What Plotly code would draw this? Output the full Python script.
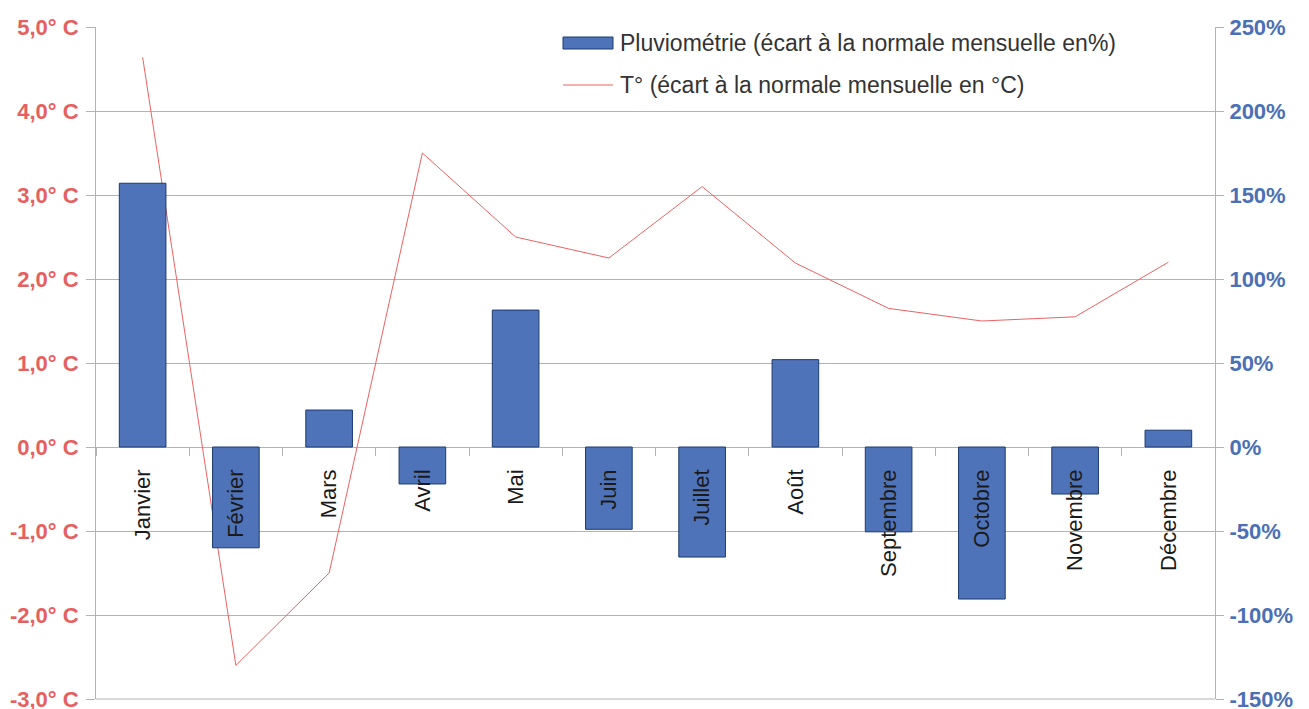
import plotly.graph_objects as go

mois = ["Janvier", "Février", "Mars", "Avril", "Mai", "Juin", "Juillet",
        "Août", "Septembre", "Octobre", "Novembre", "Décembre"]
pluvio_pct = [157, -60, 22, -22, 81.5, -49, -65.5, 52, -50.5, -90.5, -28, 10]
temp_ecart = [4.64, -2.6, -1.5, 3.5, 2.5, 2.25, 3.1, 2.19, 1.65, 1.5, 1.55, 2.2]

temp_ticks = [-3, -2, -1, 0, 1, 2, 3, 4, 5]
temp_ticktext = [f"{v:.1f}".replace(".", ",") + "° C" for v in temp_ticks]
pct_ticks = [-150, -100, -50, 0, 50, 100, 150, 200, 250]
pct_ticktext = [f"{v}%" for v in pct_ticks]

nom_pluvio = "Pluviométrie (écart à la normale mensuelle en%)"
nom_temp = "T° (écart à la normale mensuelle en °C)"

RED = "#e5605f"
BLUE = "#4b70b6"
GRID = "#b3b3b3"
FONT = "Liberation Sans, Arial, sans-serif"

fig = go.Figure()
fig.add_trace(go.Bar(x=mois, y=pluvio_pct, yaxis="y2", name=nom_pluvio,
                     marker=dict(color="#4f73b8", line=dict(color="#1c3a70", width=1)),
                     width=0.5, showlegend=False))
fig.add_trace(go.Scatter(x=mois, y=temp_ecart, yaxis="y", mode="lines", name=nom_temp,
                         line=dict(color="#ec6262", width=1), showlegend=False))

# page body has an 8px margin: compensate so the plot area sits at x 96..1215, y 27..699
OFF = 8
W, H = 1309 - OFF, 709 - OFF
L, R, T, B = 96 - OFF, 94, 27 - OFF, 10
pw, ph = 1119, 672

def px(x):
    return (x - 96) / pw

def py(y):
    return (699 - y) / ph

fig.update_layout(
    width=W, height=H,
    margin=dict(l=L, r=R, t=T, b=B, autoexpand=False),
    paper_bgcolor="white", plot_bgcolor="white",
    font=dict(family=FONT),
    showlegend=False,
    xaxis=dict(type="category", range=[-0.5, 11.5], anchor="free", position=py(447),
               showgrid=False, zeroline=False, showline=False,
               ticks="outside", tickson="boundaries", ticklen=8, tickcolor=GRID,
               tickangle=-90, ticklabelstandoff=17,
               tickfont=dict(family=FONT, size=22, color="#1a1a1a")),
    yaxis=dict(range=[-3, 5], tickvals=temp_ticks, ticktext=temp_ticktext,
               showgrid=True, gridcolor=GRID, gridwidth=1, zeroline=False,
               showline=True, linecolor=GRID, linewidth=1,
               ticks="outside", ticklen=9, tickcolor=GRID,
               ticklabeloverflow="allow", ticklabelstandoff=3,
               tickfont=dict(family=FONT, size=22, color=RED, weight="bold")),
    yaxis2=dict(range=[-150, 250], tickvals=pct_ticks, ticktext=pct_ticktext,
                overlaying="y", side="right", showgrid=False, zeroline=False,
                showline=True, linecolor=GRID, linewidth=1,
                ticks="outside", ticklen=8, tickcolor=GRID,
                ticklabeloverflow="allow", ticklabelstandoff=1,
                tickfont=dict(family=FONT, size=22, color=BLUE, weight="bold")),
)

# bottom gridline (coincides with plot edge)
fig.add_shape(type="line", xref="paper", yref="paper", layer="between",
              x0=0, x1=1, y0=0, y1=0, line=dict(color=GRID, width=1))

# legend (drawn manually to mimic the wide swatches)
fig.add_shape(type="rect", xref="paper", yref="paper", layer="between",
              x0=px(545), x1=px(1137), y0=py(116), y1=py(20),
              fillcolor="white", line=dict(width=0))
fig.add_shape(type="rect", xref="paper", yref="paper",
              x0=px(563), x1=px(613), y0=py(49), y1=py(37),
              fillcolor="#4f73b8", line=dict(color="#1c3a70", width=1))
fig.add_shape(type="line", xref="paper", yref="paper",
              x0=px(563), x1=px(613), y0=py(85), y1=py(85),
              line=dict(color="#ec6262", width=1))
fig.add_annotation(xref="paper", yref="paper", x=px(618), y=py(43), text=nom_pluvio,
                   showarrow=False, xanchor="left", yanchor="middle",
                   font=dict(family=FONT, size=23, color="#333333"))
fig.add_annotation(xref="paper", yref="paper", x=px(618), y=py(85), text=nom_temp,
                   showarrow=False, xanchor="left", yanchor="middle",
                   font=dict(family=FONT, size=23, color="#333333"))

fig.write_html("out.html")
